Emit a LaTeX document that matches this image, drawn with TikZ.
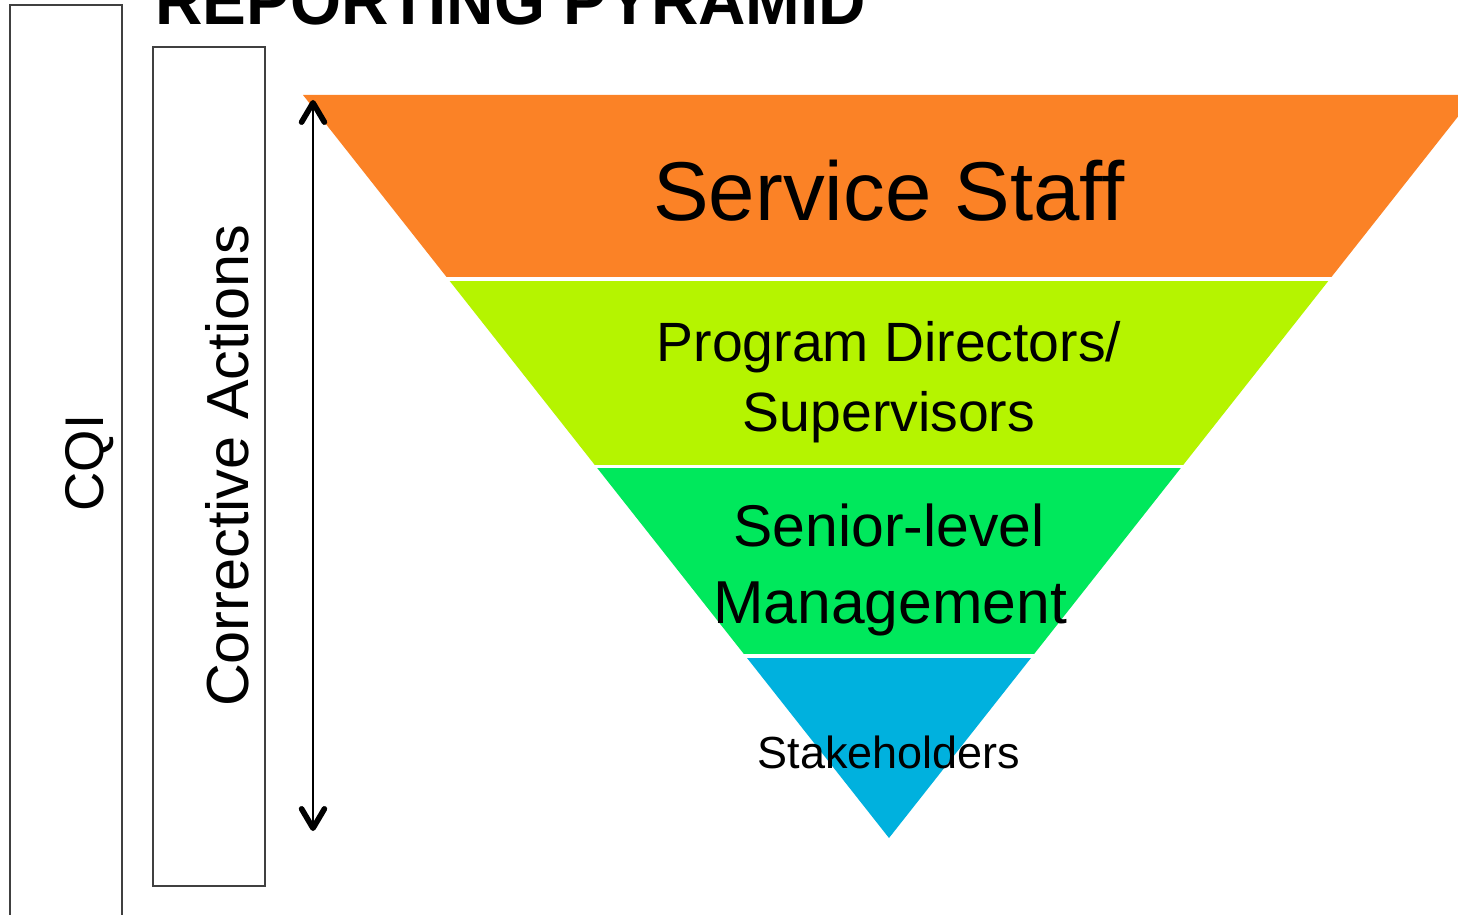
\documentclass[tikz,border=0pt]{standalone}
\usepackage{fontspec}
\setmainfont{Liberation Sans}
\usetikzlibrary{arrows.meta}

\definecolor{staffcol}{HTML}{FB8226}
\definecolor{progcol}{HTML}{B5F400}
\definecolor{seniorcol}{HTML}{00E85C}
\definecolor{stakecol}{HTML}{00B1DE}

\begin{document}
\begin{tikzpicture}[x=0.02cm, y=-0.02cm,
        lbl/.style={anchor=base, inner sep=0pt, text=black},
        frame/.style={draw=black!75, line width=1.1pt},
        >={Straight Barb[length=11pt, width=13pt, line width=3.2pt, round]}]

        % Page area
        \clip (0,0) rectangle (1458,915);
        \fill[white] (0,0) rectangle (1458,915);

        % Title (runs off the top edge)
        \node[anchor=base west, inner sep=0pt, xscale=0.97, font=\fontsize{38.5}{44}\selectfont\bfseries] (title) at (155,25) {REPORTING PYRAMID};

        % Draw the inverted pyramid, one band at a time
        \foreach \ytop/\ybot/\col in {95/277/staffcol, 282/465/progcol, 469/653/seniorcol, 658/838/stakecol} {
            \begin{scope}
                \clip (0,\ytop) rectangle (1458,\ybot);
                \fill[\col] (303,95) -- (1475,95) -- (889,838) -- cycle;
            \end{scope}
        }

        % Band labels
        \node[lbl, font=\fontsize{47.5}{56}\selectfont] (staff) at (889,221) {Service Staff};
        \node[lbl, font=\fontsize{31.5}{38}\selectfont] (prog) at (889,362) {Program Directors/};
        \node[lbl, font=\fontsize{31.5}{38}\selectfont] (super) at (889,432) {Supervisors};
        \node[lbl, font=\fontsize{33.5}{40}\selectfont] (senior) at (889,547) {Senior-level};
        \node[lbl, font=\fontsize{34.5}{40}\selectfont] (mgmt) at (890,623) {Management};
        \node[lbl, font=\fontsize{25.6}{30}\selectfont] (stake) at (889,768) {Stakeholders};

        % Side boxes with rotated text
        \draw[frame] (10,5) rectangle (122,930);
        \draw[frame] (153,47) rectangle (265,886);
        \node[lbl, rotate=90, font=\fontsize{31}{36}\selectfont] (cqi) at (103,463) {CQI};
        \node[lbl, rotate=90, font=\fontsize{33.8}{40}\selectfont] (corr) at (248,466) {Corrective Actions};

        % Double arrow beside the pyramid
        \coordinate (uptip) at (313,100);
        \coordinate (downtip) at (313,831);
        \draw[line width=1.7pt, <->] (uptip) -- (downtip);
    \end{tikzpicture}
\end{document}
